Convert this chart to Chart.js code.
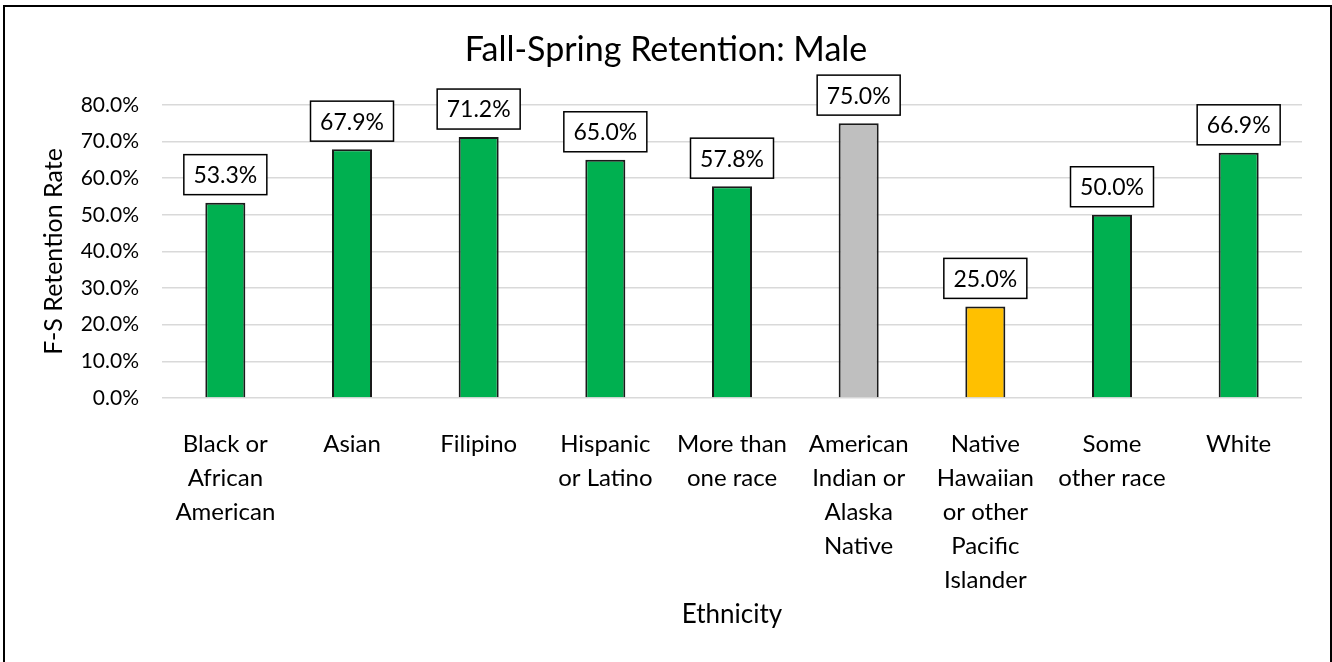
<!DOCTYPE html>
<html lang="en">
<head>
  <meta charset="UTF-8">
  <title>Fall-Spring Retention: Male</title>
  <script src="https://cdn.jsdelivr.net/npm/chart.js"></script>
  <style>
    body { margin: 0; background: #fff; }
    #wrap { position: relative; width: 1332px; height: 662px; overflow: hidden; }
    #frame { position: absolute; left: 3px; top: 5px; width: 1325px; height: 700px; border: 2px solid #000; pointer-events: none; }
  </style>
</head>
<body>
  <div id="wrap">
    <canvas id="retentionChart" width="1332" height="662"></canvas>
    <div id="frame"></div>
  </div>

  <script>
    const categories = [
      ['Black or', 'African', 'American'],
      'Asian',
      'Filipino',
      ['Hispanic', 'or Latino'],
      ['More than', 'one race'],
      ['American', 'Indian or', 'Alaska', 'Native'],
      ['Native', 'Hawaiian', 'or other', 'Pacific', 'Islander'],
      ['Some', 'other race'],
      'White'
    ];
    const retention = [53.3, 67.9, 71.2, 65.0, 57.8, 75.0, 25.0, 50.0, 66.9];
    const barColors = ['#00B050', '#00B050', '#00B050', '#00B050', '#00B050', '#BFBFBF', '#FFC000', '#00B050', '#00B050'];
    const yTicks = [0, 10, 20, 30, 40, 50, 60, 70, 80];

    const fontFamily = 'Lato, "Open Sans", sans-serif';

    // boxed value labels above each bar
    const boxLabels = {
      id: 'boxLabels',
      afterDatasetsDraw(chart) {
        const ctx = chart.ctx;
        const meta = chart.getDatasetMeta(0);
        ctx.save();
        ctx.font = '23px ' + fontFamily;
        ctx.textAlign = 'center';
        ctx.textBaseline = 'middle';
        meta.data.forEach((bar, i) => {
          const text = retention[i].toFixed(1) + '%';
          const w = 83, h = 40;
          const bottom = bar.y - 8;
          ctx.fillStyle = '#fff';
          ctx.fillRect(bar.x - w / 2, bottom - h, w, h);
          ctx.lineWidth = 1.5;
          ctx.strokeStyle = '#000';
          ctx.strokeRect(bar.x - w / 2, bottom - h, w, h);
          ctx.fillStyle = '#000';
          ctx.fillText(text, bar.x, bottom - h / 2 + 1);
        });
        ctx.restore();
      }
    };

    const ctx = document.getElementById('retentionChart').getContext('2d');
    const chart = new Chart(ctx, {
      type: 'bar',
      data: {
        labels: categories,
        datasets: [{
          data: retention,
          backgroundColor: barColors,
          borderColor: '#1a1a1a',
          borderWidth: 2,
          borderSkipped: 'bottom',
          barPercentage: 0.316,
          categoryPercentage: 1
        }]
      },
      options: {
        responsive: false,
        animation: false,
        layout: { padding: { left: 30, right: 30, top: 0, bottom: 0 } },
        plugins: {
          legend: { display: false },
          tooltip: { enabled: false },
          title: {
            display: true,
            text: 'Fall-Spring Retention: Male',
            color: '#000',
            font: { family: fontFamily, size: 34, weight: 'normal', lineHeight: 1.2 },
            padding: { top: 30, bottom: 34 }
          }
        },
        scales: {
          x: {
            grid: { display: false },
            border: { display: false },
            ticks: {
              color: '#000',
              font: { family: fontFamily, size: 24, lineHeight: 1.42 },
              maxRotation: 0,
              autoSkip: false,
              padding: 21
            },
            title: {
              display: true,
              text: 'Ethnicity',
              color: '#000',
              font: { family: fontFamily, size: 26, lineHeight: 1.2 },
              padding: { top: 0, bottom: 32 }
            },
            afterFit(scale) { scale.height = 264; }
          },
          y: {
            min: 0,
            max: 80,
            afterBuildTicks(scale) { scale.ticks = yTicks.map(v => ({ value: v })); },
            grid: { color: '#D9D9D9', lineWidth: 1.5, drawTicks: false },
            border: { display: false },
            ticks: {
              color: '#000',
              font: { family: fontFamily, size: 21 },
              padding: 23,
              callback: v => v.toFixed(1) + '%'
            },
            title: {
              display: true,
              text: 'F-S Retention Rate',
              color: '#000',
              font: { family: fontFamily, size: 25, lineHeight: 1.2 },
              padding: { top: 9, bottom: 0 }
            },
            afterFit(scale) { scale.width = 132; }
          }
        }
      },
      plugins: [boxLabels]
    });
  </script>
</body>
</html>
